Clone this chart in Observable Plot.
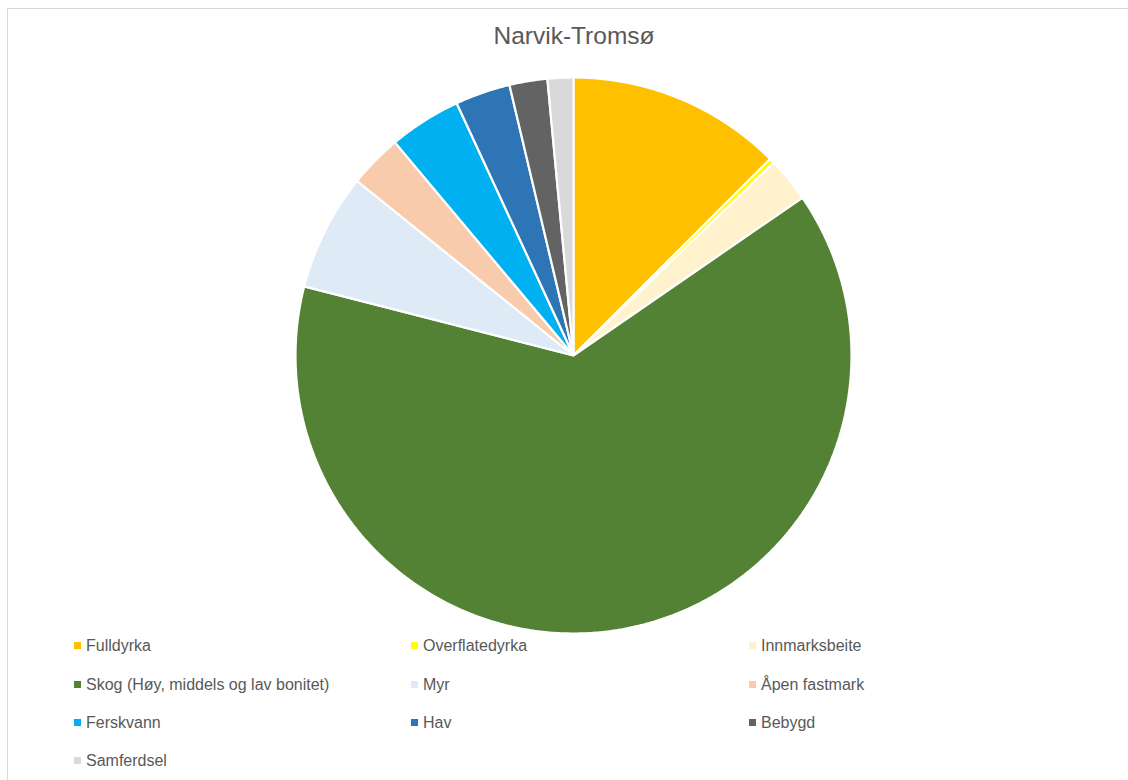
<!DOCTYPE html>
<html>
<head>
<meta charset="utf-8">
<script src="https://cdn.jsdelivr.net/npm/d3@7"></script>
<script src="https://cdn.jsdelivr.net/npm/@observablehq/plot@0.6"></script>
<style>
  html, body { margin: 0; padding: 0; background: #fff; overflow: hidden; }
  #page { position: relative; width: 1128px; height: 780px; font-family: "Liberation Sans", Arial, sans-serif; }
  #frame { position: absolute; left: 7px; top: 8px; width: 1140px; height: 800px; border: 1px solid #D9D9D9; box-sizing: border-box; }
  #title { position: absolute; left: 0; top: 22px; width: 1148px; text-align: center; font-size: 24.5px; color: #595959; }
  #chart { position: absolute; left: 0; top: 70px; }
  #legend { position: absolute; left: 0; top: 636px; width: 1128px; }
  .item { position: absolute; font-size: 16px; color: #595959; white-space: nowrap; line-height: 20px; }
  .sw { display: inline-block; width: 7px; height: 7px; margin-right: 5px; vertical-align: 2px; }
</style>
</head>
<body>
<div id="page">
  <div id="frame"></div>
  <div id="title">Narvik-Tromsø</div>
  <div id="chart"></div>
  <div id="legend"></div>
</div>
<script>
const categories = ["Fulldyrka", "Overflatedyrka", "Innmarksbeite", "Skog (Høy, middels og lav bonitet)", "Myr", "Åpen fastmark", "Ferskvann", "Hav", "Bebygd", "Samferdsel"];
const values = [12.5, 0.3, 2.6, 63.6, 6.8, 3.1, 4.2, 3.2, 2.2, 1.5];
const colors = ["#FFC000", "#FFFF00", "#FFF2CC", "#548235", "#DEEBF7", "#F8CBAD", "#00B0F0", "#2E75B6", "#636363", "#D9D9D9"];

const pie = d3.pie().sort(null).value(d => d)(values);
const pts = [];
pie.forEach((p, i) => {
  const n = Math.max(4, Math.ceil((p.endAngle - p.startAngle) * 120));
  pts.push({cat: categories[i], x: 0, y: 0});
  for (let k = 0; k <= n; k++) {
    const a = p.startAngle + (p.endAngle - p.startAngle) * k / n;
    pts.push({cat: categories[i], x: Math.sin(a), y: Math.cos(a)});
  }
});

const cx = 573, cy = 285, r = 278;
const chart = Plot.plot({
  width: 1128,
  height: 570,
  margin: 0,
  x: {domain: [-1, 1], range: [cx - r, cx + r], axis: null},
  y: {domain: [-1, 1], range: [cy + r, cy - r], axis: null},
  color: {type: "ordinal", domain: categories, range: colors},
  marks: [
    Plot.line(pts, {x: "x", y: "y", z: "cat", fill: "cat", stroke: "white", strokeWidth: 2.2, strokeLinejoin: "miter", curve: "linear-closed"})
  ]
});
document.getElementById("chart").appendChild(chart);

const colX = [74, 411, 749];
const rowY = [0, 39, 77, 115];
const legend = document.getElementById("legend");
categories.forEach((c, i) => {
  const d = document.createElement("div");
  d.className = "item";
  d.style.left = colX[i % 3] + "px";
  d.style.top = rowY[Math.floor(i / 3)] + "px";
  d.innerHTML = `<span class="sw" style="background:${colors[i]}"></span>${c}`;
  legend.appendChild(d);
});
</script>
</body>
</html>
